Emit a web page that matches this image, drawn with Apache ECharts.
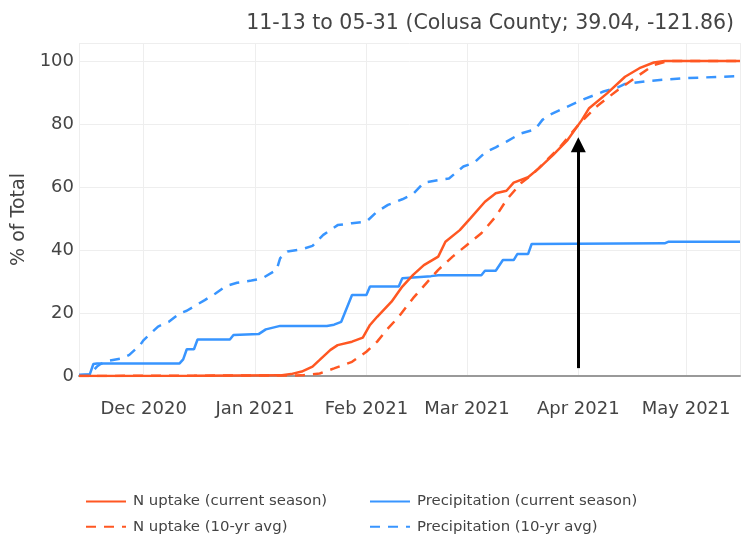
<!DOCTYPE html>
<html>
<head>
<meta charset="utf-8">
<script src="https://cdn.jsdelivr.net/npm/echarts@6/dist/echarts.min.js"></script>
<style>html,body{margin:0;padding:0;background:#fff;}#c{width:749px;height:536px;}</style>
</head>
<body>
<div id="c"></div>
<script>
const titleText = '11-13 to 05-31 (Colusa County; 39.04, -121.86)';
const xStart = '2020-11-13';
const xEnd = '2021-05-16';
const monthNames = ['Jan','Feb','Mar','Apr','May','Jun','Jul','Aug','Sep','Oct','Nov','Dec'];
const yTicks = [0, 20, 40, 60, 80, 100];

const nUptakeCurrent = [['2020-11-13',0],['2020-12-15',0.05],['2021-01-08',0.2],['2021-01-11',0.6],['2021-01-14',1.4],['2021-01-17',3.0],['2021-01-19',5.1],['2021-01-22',8.3],['2021-01-24',9.8],['2021-01-28',10.9],['2021-01-31',12.2],['2021-02-02',16.2],['2021-02-04',18.8],['2021-02-08',23.6],['2021-02-11',28.4],['2021-02-14',32.1],['2021-02-17',35.2],['2021-02-21',37.9],['2021-02-23',42.6],['2021-02-27',46.3],['2021-03-02',50.1],['2021-03-06',55.3],['2021-03-09',58.0],['2021-03-12',58.8],['2021-03-14',61.4],['2021-03-18',63.1],['2021-03-21',65.9],['2021-03-25',70.2],['2021-03-29',74.9],['2021-04-02',81.3],['2021-04-04',85.0],['2021-04-09',89.7],['2021-04-14',95.0],['2021-04-18',97.7],['2021-04-22',99.5],['2021-04-25',100],['2021-05-16',100]];

const nUptakeAvg = [['2020-11-13',0],['2021-01-14',0.2],['2021-01-19',0.8],['2021-01-23',2.4],['2021-01-28',4.5],['2021-02-01',7.7],['2021-02-04',10.9],['2021-02-07',15.1],['2021-02-10',18.8],['2021-02-14',24.7],['2021-02-18',29.9],['2021-02-21',33.7],['2021-02-25',37.9],['2021-03-01',41.6],['2021-03-05',45.3],['2021-03-09',50.6],['2021-03-12',55.9],['2021-03-16',61.2],['2021-03-19',63.8],['2021-03-21',66.0],['2021-03-27',72.8],['2021-04-01',79.7],['2021-04-06',85.5],['2021-04-12',90.8],['2021-04-18',95.6],['2021-04-22',98.7],['2021-04-26',100],['2021-05-16',100]];

const precipCurrent = [['2020-11-13',0.3],['2020-11-16',0.5],['2020-11-17',3.8],['2020-11-18',4.0],['2020-12-11',4.0],['2020-12-12',5.3],['2020-12-13',8.5],['2020-12-15',8.5],['2020-12-16',11.6],['2020-12-25',11.6],['2020-12-26',13.0],['2021-01-02',13.3],['2021-01-04',14.8],['2021-01-08',15.9],['2021-01-21',15.9],['2021-01-23',16.3],['2021-01-25',17.2],['2021-01-28',25.7],['2021-02-01',25.7],['2021-02-02',28.4],['2021-02-10',28.4],['2021-02-11',31.0],['2021-02-19',31.7],['2021-02-21',32.0],['2021-03-05',32.0],['2021-03-06',33.4],['2021-03-09',33.4],['2021-03-11',36.8],['2021-03-14',36.8],['2021-03-15',38.7],['2021-03-18',38.7],['2021-03-19',41.9],['2021-04-25',42.1],['2021-04-26',42.6],['2021-05-16',42.6]];

const precipAvg = [['2020-11-13',0.3],['2020-11-16',0.5],['2020-11-18',3.0],['2020-11-19',3.8],['2020-11-21',4.8],['2020-11-25',5.6],['2020-11-27',6.7],['2020-11-30',9.8],['2020-12-01',11.4],['2020-12-05',15.7],['2020-12-08',17.2],['2020-12-11',19.9],['2020-12-13',20.7],['2020-12-18',24.1],['2020-12-21',26.2],['2020-12-24',28.6],['2020-12-27',29.6],['2020-12-31',30.3],['2021-01-03',31.0],['2021-01-07',33.7],['2021-01-08',37.4],['2021-01-10',39.5],['2021-01-14',40.2],['2021-01-17',41.3],['2021-01-20',44.8],['2021-01-24',47.9],['2021-01-28',48.5],['2021-02-01',49.0],['2021-02-04',52.2],['2021-02-07',54.3],['2021-02-11',56.1],['2021-02-14',57.8],['2021-02-17',61.4],['2021-02-21',62.2],['2021-02-24',62.7],['2021-02-28',66.5],['2021-03-03',67.7],['2021-03-06',70.9],['2021-03-09',72.6],['2021-03-12',74.4],['2021-03-16',77.0],['2021-03-20',78.3],['2021-03-22',81.3],['2021-03-24',82.9],['2021-03-28',85.0],['2021-04-02',87.6],['2021-04-08',90.3],['2021-04-12',91.6],['2021-04-14',92.7],['2021-04-21',93.7],['2021-04-30',94.5],['2021-05-16',95.2]];

const arrowDate = '2021-04-01';
const arrowFrom = 2.5;
const arrowTo = 73.4;

function toTime(s) {
  const p = s.split('-').map(Number);
  return new Date(p[0], p[1] - 1, p[2]).getTime();
}
function conv(arr) { return arr.map(d => [toTime(d[0]), d[1]]); }

const ORANGE = '#FF5722';
const BLUE = '#3895FF';
const FONT = 'DejaVu Sans';
const TXT = '#444';

const legendCommon = {
  orient: 'vertical', top: 494, padding: 0, itemWidth: 40, itemHeight: 14, itemGap: 10.3,
  textStyle: {fontFamily: FONT, fontSize: 14.9, color: TXT, padding: [0, 0, 0, 2]}, selectedMode: false,
  itemStyle: {opacity: 0}
};

const chart = echarts.init(document.getElementById('c'), null, {renderer: 'canvas'});
chart.setOption({
  animation: false,
  backgroundColor: '#fff',
  textStyle: {fontFamily: FONT, color: TXT},
  title: {
    text: titleText, right: 10, top: 8,
    textStyle: {fontFamily: FONT, fontSize: 20.5, fontWeight: 'normal', color: TXT}
  },
  grid: {left: 79, right: 9, top: 43, bottom: 160, containLabel: false},
  legend: [
    Object.assign({data: ['N uptake (current season)', 'N uptake (10-yr avg)'], left: 85}, legendCommon),
    Object.assign({data: ['Precipitation (current season)', 'Precipitation (10-yr avg)'], left: 369}, legendCommon)
  ],
  xAxis: {
    type: 'time',
    min: toTime(xStart), max: toTime(xEnd),
    minInterval: 28 * 86400000, maxInterval: 31 * 86400000,
    axisLine: {show: true, lineStyle: {color: '#999', width: 2}},
    axisTick: {show: false},
    splitLine: {show: true, lineStyle: {color: '#eeeeee', width: 1}},
    axisLabel: {
      margin: 24, fontSize: 18, color: TXT, fontFamily: FONT,
      showMinLabel: false, showMaxLabel: false,
      formatter: function (v) { const d = new Date(v); return monthNames[d.getMonth()] + ' ' + d.getFullYear(); }
    }
  },
  yAxis: {
    type: 'value', min: 0, max: 105.7, interval: 20,
    name: '% of Total', nameLocation: 'middle', nameGap: 37,
    nameTextStyle: {fontFamily: FONT, fontSize: 19, color: TXT, padding: [0, 20, 0, 0]},
    axisLine: {show: false}, axisTick: {show: false},
    splitLine: {show: true, lineStyle: {color: '#eeeeee', width: 1}},
    axisLabel: {
      margin: 5, fontSize: 18, color: TXT, fontFamily: FONT,
      formatter: function (v) { return yTicks.indexOf(v) >= 0 ? String(v) : ''; }
    }
  },
  series: [
    {
      name: 'Precipitation (10-yr avg)', type: 'line', data: conv(precipAvg), showSymbol: false, symbol: 'none',
      lineStyle: {color: BLUE, width: 2.5, type: [10, 8]}, itemStyle: {color: BLUE}
    },
    {
      name: 'Precipitation (current season)', type: 'line', data: conv(precipCurrent), showSymbol: false, symbol: 'none',
      lineStyle: {color: BLUE, width: 2.5}, itemStyle: {color: BLUE}
    },
    {
      name: 'N uptake (10-yr avg)', type: 'line', data: conv(nUptakeAvg), showSymbol: false, symbol: 'none',
      lineStyle: {color: ORANGE, width: 2.5, type: [10, 8]}, itemStyle: {color: ORANGE}
    },
    {
      name: 'N uptake (current season)', type: 'line', data: conv(nUptakeCurrent), showSymbol: false, symbol: 'none',
      lineStyle: {color: ORANGE, width: 2.5}, itemStyle: {color: ORANGE},
      markLine: {
        silent: true, animation: false,
        symbol: ['none', 'triangle'], symbolSize: [15, 15],
        label: {show: false},
        lineStyle: {color: '#000', width: 3, type: 'solid'},
        data: [[{coord: [toTime(arrowDate), arrowFrom]}, {coord: [toTime(arrowDate), arrowTo]}]]
      }
    }
  ]
});
</script>
</body>
</html>
